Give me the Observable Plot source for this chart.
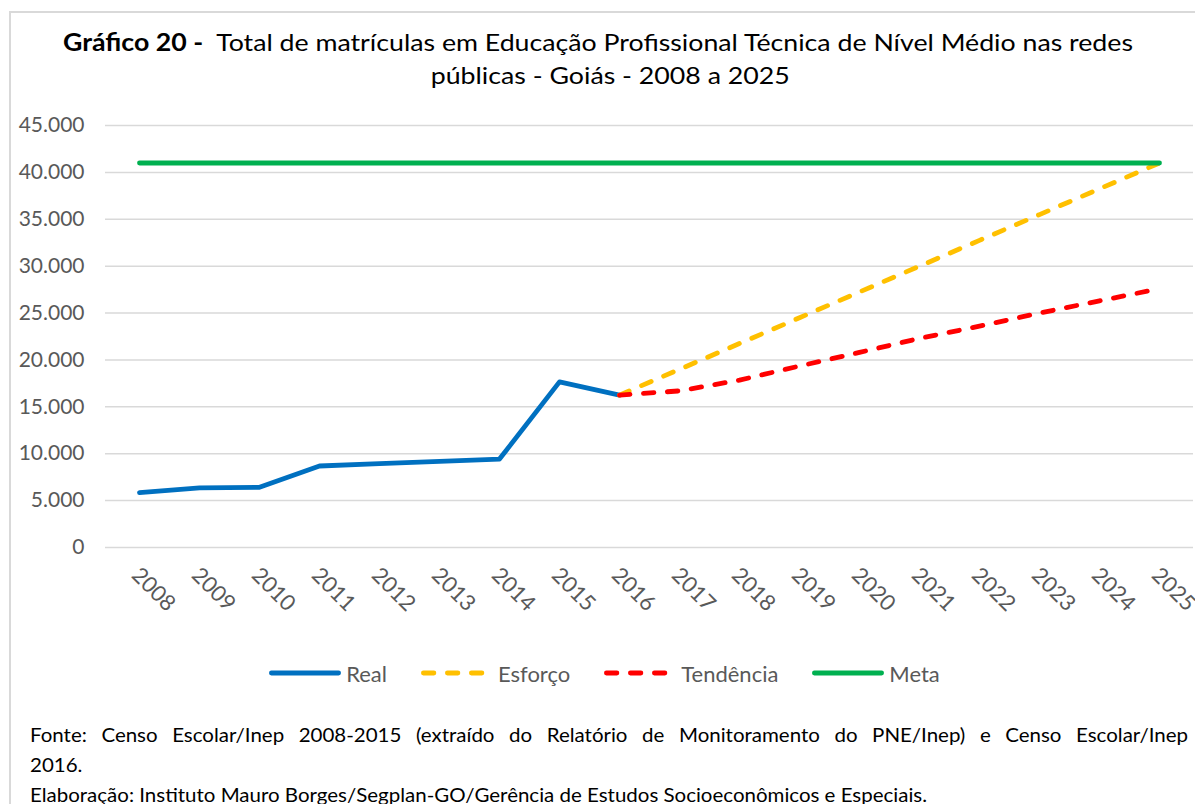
<!DOCTYPE html>
<html><head><meta charset="utf-8">
<script src="https://cdn.jsdelivr.net/npm/d3@7"></script>
<script src="https://cdn.jsdelivr.net/npm/@observablehq/plot@0.6"></script>
<style>
body{margin:0;background:#fff;width:1195px;height:804px;overflow:hidden;position:relative;font-family:Lato,"Open Sans",sans-serif;}
#frame{position:absolute;left:9px;top:11px;width:1300px;height:900px;border-left:2px solid #d9d9d9;border-top:2px solid #d9d9d9;}
#title{position:absolute;left:0;width:1196px;top:25px;text-align:center;font-size:24px;line-height:33px;color:#000;transform-origin:598px 0;}
#title span{white-space:nowrap;}
#title .l2{padding-left:22px;}
#chart{position:absolute;left:0;top:100px;}
#legend{position:absolute;left:0;width:1209px;top:658px;height:30px;display:flex;justify-content:center;align-items:center;gap:34px;font-size:22px;color:#595959;}
#legend .item{display:flex;align-items:center;gap:5px;}
#caption{position:absolute;left:30px;top:719px;font-size:20px;line-height:30px;color:#000;transform-origin:0 0;}
#caption .l1{text-align:justify;text-align-last:justify;white-space:nowrap;}
#caption span.m{white-space:nowrap;}
</style></head>
<body>
<div id="frame"></div>
<div id="title"><div><span id="t1"><b>Gráfico 20 -</b>&nbsp; Total de matrículas em Educação Profissional Técnica de Nível Médio nas redes</span></div><div class="l2"><span>públicas - Goiás - 2008 a 2025</span></div></div>
<div id="chart"></div>
<div id="legend"></div>
<div id="caption"><div class="l1" id="cl1">Fonte: Censo Escolar/Inep 2008-2015 (extraído do Relatório de Monitoramento do PNE/Inep) e Censo Escolar/Inep</div><div>2016.</div><div><span class="m" id="cl3">Elaboração: Instituto Mauro Borges/Segplan-GO/Gerência de Estudos Socioeconômicos e Especiais.</span></div></div>
<script>
// ---- data ----
const years = ["2008","2009","2010","2011","2012","2013","2014","2015","2016","2017","2018","2019","2020","2021","2022","2023","2024","2025"];
const realYears = ["2008","2009","2010","2011","2012","2013","2014","2015","2016"];
const realValues = [5850, 6350, 6420, 8690, 8940, 9180, 9430, 17660, 16250];
const projYears = ["2016","2017","2018","2019","2020","2021","2022","2023","2024","2025"];
const esforcoValues = [16250, 19000, 21750, 24500, 27250, 30000, 32750, 35500, 38250, 41000];
const tendenciaValues = [16250, 16700, 17850, 19350, 20800, 22300, 23600, 25000, 26300, 27600];
const metaValues = [41000, 41000, 41000, 41000, 41000, 41000, 41000, 41000, 41000, 41000, 41000, 41000, 41000, 41000, 41000, 41000, 41000, 41000];
const yTicks = [0, 5000, 10000, 15000, 20000, 25000, 30000, 35000, 40000, 45000];
const seriesNames = ["Real", "Esforço", "Tendência", "Meta"];
const seriesColors = ["#0070c0", "#ffc000", "#ff0000", "#00b050"];
const seriesDashed = [false, true, true, false];

const toRows = (xs, vs) => xs.map((x, i) => ({x, y: vs[i]}));
const seriesData = [toRows(realYears, realValues), toRows(projYears, esforcoValues), toRows(projYears, tendenciaValues), toRows(years, metaValues)];
const DASH = "10.5,13.5";
const LW = 4.8;
const fmt = d => d === 0 ? "0" : d3.format(",")(d).replace(/,/g, ".");

const chart = Plot.plot({
  width: 1195, height: 520,
  marginLeft: 105, marginRight: 2, marginTop: 25, marginBottom: 73,
  x: {type: "point", domain: years, padding: 0.5, label: null},
  y: {domain: [0, 45000], label: null},
  style: {fontFamily: "Lato, 'Open Sans', sans-serif", fontSize: "20px", color: "#595959", background: "transparent"},
  marks: [
    Plot.gridY(yTicks, {stroke: "#d9d9d9", strokeOpacity: 1, strokeWidth: 1.5}),
    Plot.axisY(yTicks, {tickSize: 0, tickPadding: 21, tickFormat: fmt, fontSize: 21, fill: "#595959", label: null}),
    Plot.axisX({tickSize: 0, tickPadding: 19, tickRotate: 45, fontSize: 22, fill: "#595959", label: null, dx: -4, dy: 5}),
    ...seriesData.map((d, i) => Plot.line(d, {x: "x", y: "y", stroke: seriesColors[i], strokeWidth: LW,
      strokeLinecap: "round", strokeLinejoin: "round", strokeDasharray: seriesDashed[i] ? DASH : null}))
  ]
});
document.getElementById("chart").appendChild(chart);

// legend
const lg = document.getElementById("legend");
seriesNames.forEach((name, i) => {
  const item = document.createElement("div");
  item.className = "item";
  const dash = seriesDashed[i] ? `stroke-dasharray="${DASH}"` : "";
  const x2 = seriesDashed[i] ? 72 : 69.6;
  item.innerHTML = `<svg width="72" height="10"><line x1="2.4" y1="5" x2="${x2}" y2="5" stroke="${seriesColors[i]}" stroke-width="${LW}" stroke-linecap="round" ${dash}/></svg><span>${name}</span>`;
  lg.appendChild(item);
});

// title stretched to match reference width
const tw = document.getElementById("t1").getBoundingClientRect().width;
document.getElementById("title").style.transform = `scaleX(${1070 / tw})`;

// caption condensed to match
const cap = document.getElementById("caption");
const w3 = document.getElementById("cl3").getBoundingClientRect().width;
const s = 897 / w3;
cap.style.width = (1158 / s) + "px";
cap.style.transform = `scaleX(${s})`;
</script>
</body></html>
